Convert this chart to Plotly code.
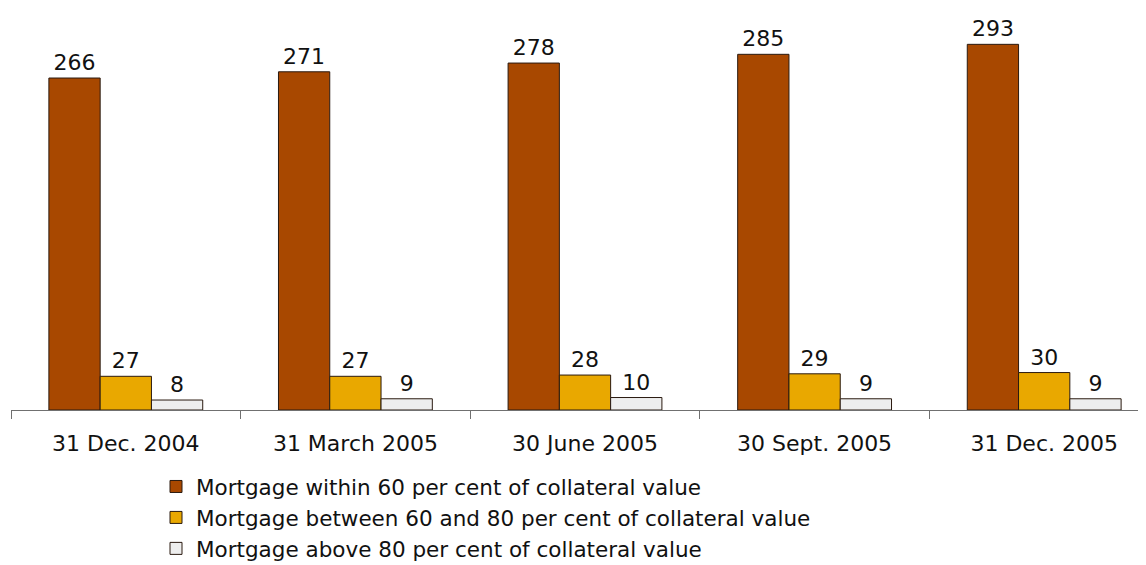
import plotly.graph_objects as go

categories = ["31 Dec. 2004", "31 March 2005", "30 June 2005", "30 Sept. 2005", "31 Dec. 2005"]
within_60 = [266, 271, 278, 285, 293]
between_60_80 = [27, 27, 28, 29, 30]
above_80 = [8, 9, 10, 9, 9]

series = [
    ("Mortgage within 60 per cent of collateral value", within_60, "#A84800"),
    ("Mortgage between 60 and 80 per cent of collateral value", between_60_80, "#E9A800"),
    ("Mortgage above 80 per cent of collateral value", above_80, "#EEEEEE"),
]

OFF = 8  # page body margin
W, H = 1146 - OFF, 565 - OFF
ml = 11 - OFF
mt = 0
axis_y = 410 - OFF
mb = H - axis_y
plot_h = axis_y - mt
FONT = "DejaVu Sans"
FS = 22

fig = go.Figure()
for name, vals, col in series:
    fig.add_trace(go.Bar(
        x=categories, y=vals, name=name,
        marker=dict(color=col, line=dict(color="#2a1a10", width=1)),
        text=[str(v) for v in vals], textposition="outside",
        textfont=dict(family=FONT, size=FS, color="#111111"),
        cliponaxis=False,
    ))

cat_w = 229.6
span = (W - ml) / cat_w

leg_x = 156 - OFF
leg_top = 466 - OFF

fig.update_layout(
    width=W, height=H,
    margin=dict(l=ml, r=0, t=mt, b=mb, autoexpand=False),
    paper_bgcolor="white", plot_bgcolor="white",
    barmode="group", bargap=0.33, bargroupgap=0,
    font=dict(family=FONT, size=FS, color="#111111"),
    showlegend=True,
    legend=dict(
        orientation="v", x=(leg_x - ml) / (W - ml), xanchor="left",
        y=-(leg_top - axis_y) / plot_h, yanchor="top",
        font=dict(family=FONT, size=21.5, color="#111111"),
        tracegroupgap=0, itemwidth=30, bgcolor="rgba(0,0,0,0)",
    ),
    xaxis=dict(
        type="category", range=[-0.5, -0.5 + span],
        showline=True, linecolor="#707070", linewidth=1,
        ticks="outside", ticklen=8, tickcolor="#707070", tickson="boundaries",
        showgrid=False, tickfont=dict(family=FONT, size=FS, color="#111111"),
        ticklabelstandoff=14,
    ),
    yaxis=dict(
        range=[0, plot_h / 1.248], visible=False, showgrid=False, zeroline=False,
    ),
)

fig.write_html("out.html")
